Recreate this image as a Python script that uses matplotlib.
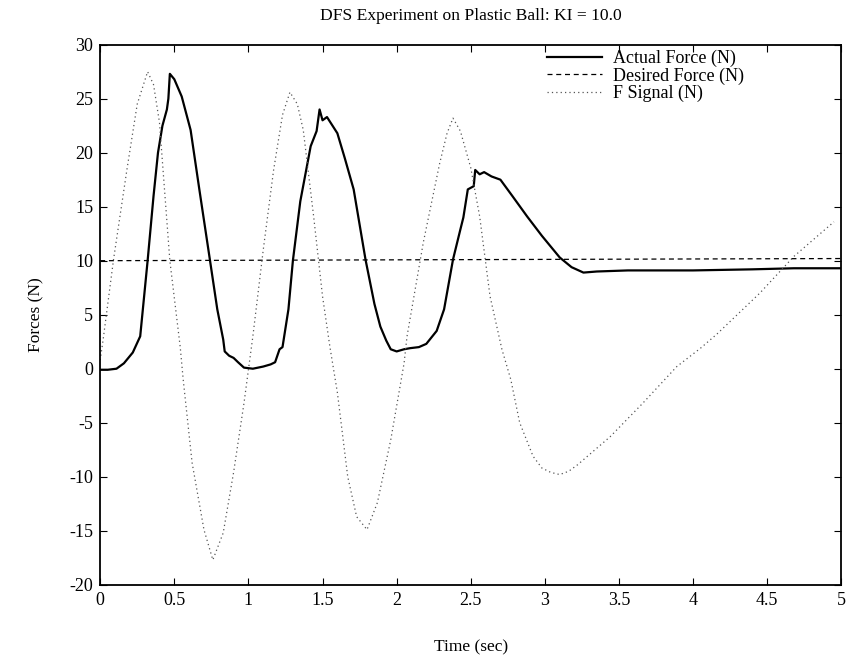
import matplotlib
matplotlib.use("Agg")
import matplotlib.pyplot as plt

plt.rcParams['font.family'] = ['Liberation Serif', 'DejaVu Serif']
plt.rcParams['axes.unicode_minus'] = False

# actual force (time in sec, force in N)
actual_t = [0.0, 0.05, 0.11, 0.16, 0.22, 0.27, 0.32, 0.36, 0.39, 0.42, 0.45, 0.46, 0.47,
            0.50, 0.55, 0.61, 0.67, 0.74, 0.79, 0.83, 0.84, 0.87, 0.90, 0.93, 0.97,
            1.03, 1.10, 1.15, 1.18, 1.21, 1.23, 1.27, 1.30, 1.35, 1.42, 1.46, 1.48,
            1.50, 1.53, 1.60, 1.65, 1.71, 1.79, 1.85, 1.89, 1.93, 1.96, 2.00, 2.05,
            2.09, 2.15, 2.20, 2.27, 2.32, 2.38, 2.43, 2.45, 2.48, 2.52, 2.53, 2.56,
            2.59, 2.64, 2.70, 2.78, 2.88, 2.98, 3.10, 3.18, 3.26, 3.35, 3.56, 4.0,
            4.4, 4.68, 5.0]
actual_f = [-0.1, -0.1, 0.0, 0.5, 1.5, 3.0, 10.0, 16.0, 20.0, 22.5, 24.0, 25.0, 27.3,
            26.8, 25.2, 22.1, 16.5, 10.1, 5.5, 2.7, 1.6, 1.2, 1.0, 0.6, 0.1,
            0.0, 0.2, 0.4, 0.6, 1.8, 2.0, 5.5, 10.0, 15.5, 20.6, 22.0, 24.0,
            23.0, 23.3, 21.8, 19.5, 16.6, 10.1, 6.0, 3.9, 2.6, 1.8, 1.6, 1.8,
            1.9, 2.0, 2.3, 3.5, 5.5, 10.1, 12.9, 14.0, 16.6, 16.9, 18.4, 18.0,
            18.2, 17.8, 17.5, 16.0, 14.1, 12.3, 10.3, 9.4, 8.9, 9.0, 9.1, 9.1,
            9.2, 9.3, 9.3]

# desired force
desired_t = [0.0, 5.0]
desired_f = [10.0, 10.2]

# F signal
signal_t = [0.0, 0.02, 0.09, 0.18, 0.25, 0.32, 0.36, 0.40, 0.47, 0.54, 0.56, 0.62,
            0.70, 0.76, 0.83, 0.90, 0.97, 1.03, 1.10, 1.17, 1.23, 1.28, 1.33, 1.37,
            1.44, 1.50, 1.55, 1.60, 1.67, 1.73, 1.80, 1.87, 1.96, 2.05, 2.07, 2.18,
            2.29, 2.34, 2.38, 2.43, 2.50, 2.56, 2.63, 2.71, 2.77, 2.83, 2.92, 2.98,
            3.04, 3.10, 3.16, 3.22, 3.44, 3.66, 3.89, 4.05, 4.16, 4.45, 4.68, 4.95]
signal_f = [0.8, 2.7, 10.1, 18.4, 24.5, 27.5, 26.3, 22.8, 10.0, 2.0, -1.0, -8.7,
            -14.9, -17.7, -15.2, -9.6, -3.2, 3.0, 11.0, 18.4, 23.5, 25.6, 24.5, 22.1,
            14.1, 6.7, 2.0, -2.2, -10.0, -13.7, -14.9, -12.4, -6.6, 0.5, 3.0, 11.7,
            19.0, 21.8, 23.2, 22.0, 18.6, 14.1, 6.7, 1.8, -1.0, -5.0, -8.1, -9.2,
            -9.6, -9.8, -9.5, -8.9, -6.3, -3.2, 0.2, 1.9, 3.2, 7.0, 10.4, 13.6]

fig = plt.figure(figsize=(8.49, 6.57), dpi=100)
ax = fig.add_axes([0.118, 0.11, 0.873, 0.822])

ax.plot(actual_t, actual_f, color='black', linewidth=1.6, label='Actual Force (N)')
ax.plot(desired_t, desired_f, color='black', linewidth=0.9, linestyle=(0, (4, 3)),
        label='Desired Force (N)')
ax.plot(signal_t, signal_f, color='#555555', linewidth=0.9, linestyle=(0, (1, 2.5)),
        label='F Signal (N)')

ax.set_xlim(0, 5)
ax.set_ylim(-20, 30)
ax.set_xticks([0, 0.5, 1, 1.5, 2, 2.5, 3, 3.5, 4, 4.5, 5])
ax.set_xticklabels(['0', '0.5', '1', '1.5', '2', '2.5', '3', '3.5', '4', '4.5', '5'])
ax.set_yticks(range(-20, 31, 5))
ax.tick_params(direction='in', top=True, right=True, length=5, labelsize=13, pad=5)
for s in ax.spines.values():
    s.set_linewidth(1.3)

ax.set_title('DFS Experiment on Plastic Ball: KI = 10.0', fontsize=12.6, pad=18)
ax.set_xlabel('Time (sec)', fontsize=12.5, labelpad=22)
ax.set_ylabel('Forces (N)', fontsize=12.5, labelpad=18)

ax.legend(loc='upper right', bbox_to_anchor=(0.891, 1.02), frameon=False, fontsize=13,
          handlelength=3.1, handletextpad=0.6, labelspacing=0.0)

fig.savefig('out.png', dpi=100)
